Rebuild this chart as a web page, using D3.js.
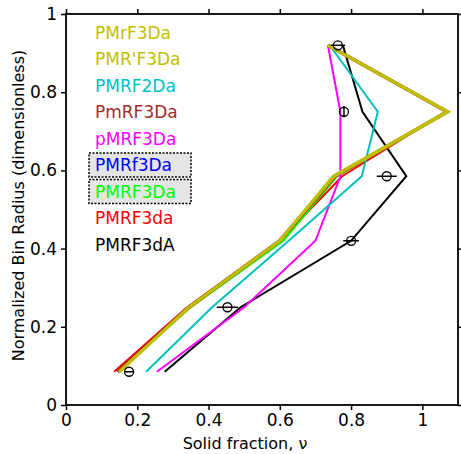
<!DOCTYPE html>
<html>
<head>
<meta charset="utf-8">
<script src="https://cdn.jsdelivr.net/npm/d3@7"></script>
<style>
  body { margin: 0; background: #fff; }
  svg text { font-family: "DejaVu Sans", sans-serif; }
</style>
</head>
<body>
<script>
// radius bins (y) shared by every series
const radius = [0.085, 0.25, 0.42, 0.585, 0.75, 0.92]

// solid fraction per series
const names  = ["PMrF3Da", "PMR'F3Da", "PMRF2Da", "PmRF3Da", "pMRF3Da", "PMRf3Da", "PMRF3Da", "PMRF3da", "PMRF3dA"]
const colors = ["#bfbf00", "#bfbf00", "#00bfbf", "#a52a2a", "#ff00ff", "#0000ff", "#00ff00", "#ff0000", "#000000"]
const values = [
  [0.148, 0.345, 0.60, 0.755, 1.075, 0.735],
  [0.150, 0.345, 0.60, 0.750, 1.070, 0.735],
  [0.225, 0.410, 0.625, 0.83, 0.875, 0.740],
  [0.145, 0.345, 0.60, 0.755, 1.070, 0.735],
  [0.255, 0.500, 0.70, 0.770, 0.770, 0.735],
  [0.145, 0.345, 0.60, 0.755, 1.070, 0.735],
  [0.145, 0.350, 0.61, 0.760, 1.070, 0.735],
  [0.135, 0.340, 0.60, 0.775, 1.065, 0.735],
  [0.277, 0.490, 0.80, 0.955, 0.832, 0.777]
]
const boxed = ["PMRf3Da", "PMRF3Da"]

// measured points with error bars
const measNu   = [0.177, 0.453, 0.80, 0.90, 0.78, 0.763]
const measXerr = [0.005, 0.03, 0.022, 0.028, 0, 0.02]
const measYerr = [0.004, 0.008, 0.004, 0.004, 0.014, 0.004]

const xTicks = [0, 0.2, 0.4, 0.6, 0.8, 1]
const yTicks = [0, 0.2, 0.4, 0.6, 0.8, 1]

const W = 461, H = 454
const svg = d3.select("body").append("svg").attr("width", W).attr("height", H)

const x = d3.scaleLinear().domain([0, 1.1]).range([66, 458])
const y = d3.scaleLinear().domain([0, 1]).range([405, 14])

// lines
const line = d3.line().x(d => x(d[0])).y(d => y(d[1]))
const order = [8, 7, 6, 5, 3, 4, 2, 1, 0]
const widths = {0: 2, 1: 3.2, 2: 2, 3: 3.6, 4: 2, 5: 2, 6: 2, 7: 2, 8: 2}
order.forEach(i => {
  const pts = values[i].map((v, k) => [v, radius[k]])
  svg.append("path")
    .attr("d", line(pts))
    .attr("fill", "none")
    .attr("stroke", colors[i])
    .attr("stroke-width", widths[i])
    .attr("stroke-linejoin", "miter")
    .attr("stroke-dasharray", names[i] == "PMRf3Da" ? "2,6" : null)
})

// measured points
const meas = svg.append("g")
measNu.forEach((v, k) => {
  let cx = x(v), cy = y(radius[k])
  let ex = x(v + measXerr[k]) - cx
  let ey = cy - y(radius[k] + measYerr[k])
  if (measXerr[k] > 0) {
    ex = Math.max(ex, 4.5)
    meas.append("line").attr("x1", cx - ex).attr("x2", cx + ex).attr("y1", cy).attr("y2", cy)
      .attr("stroke", "#000").attr("stroke-width", 1.5)
  }
  if (ey > 4) {
    meas.append("line").attr("x1", cx).attr("x2", cx).attr("y1", cy - ey).attr("y2", cy + ey)
      .attr("stroke", "#000").attr("stroke-width", 1.5)
  }
  meas.append("circle").attr("cx", cx).attr("cy", cy).attr("r", 4.5)
    .attr("fill", "none").attr("stroke", "#000").attr("stroke-width", 1.3)
})

// frame
svg.append("rect")
  .attr("x", x(0)).attr("y", y(1))
  .attr("width", x(1.1) - x(0)).attr("height", y(0) - y(1))
  .attr("fill", "none").attr("stroke", "#000").attr("stroke-width", 1.8)

// axes
svg.append("g").attr("transform", `translate(0,${y(0)})`)
  .call(d3.axisBottom(x).tickValues(xTicks).tickFormat(d => String(d)).tickSize(5).tickPadding(4))
svg.append("g").attr("transform", `translate(0,${y(1)})`)
  .call(d3.axisTop(x).tickValues(xTicks).tickFormat("").tickSize(5))
svg.append("g").attr("transform", `translate(${x(0)},0)`)
  .call(d3.axisLeft(y).tickValues(yTicks).tickFormat(d => String(d)).tickSize(5).tickPadding(4))
svg.append("g").attr("transform", `translate(${x(1.1)},0)`)
  .call(d3.axisRight(y).tickValues(yTicks).tickFormat("").tickSize(5))

svg.selectAll(".domain").remove()
svg.selectAll(".tick line").attr("stroke", "#000").attr("stroke-width", 1.5)
svg.selectAll(".tick text").attr("font-size", 17).attr("fill", "#000")
  .style("font-family", "DejaVu Sans")

svg.append("text")
  .attr("x", 245).attr("y", 449)
  .attr("text-anchor", "middle").attr("font-size", 16)
  .text("Solid fraction,  \u03bd")

svg.append("text")
  .attr("transform", `translate(24,${(y(0) + y(1)) / 2 - 4}) rotate(-90)`)
  .attr("text-anchor", "middle").attr("font-size", 16)
  .text("Normalized Bin Radius (dimensionless)")

// legend
const leg = svg.append("g")
names.forEach((n, i) => {
  let ly = 33 + i * 26.5
  if (boxed.includes(n)) {
    leg.append("rect")
      .attr("x", 89).attr("y", ly - 12.5)
      .attr("width", 102).attr("height", 24)
      .attr("fill", "#e5e5e5").attr("stroke", "#000")
      .attr("stroke-width", 1.5).attr("stroke-dasharray", "2,1.5")
  }
  leg.append("text")
    .attr("x", 95).attr("y", ly)
    .attr("dy", "0.35em")
    .attr("font-size", 17)
    .attr("fill", colors[i])
    .text(n)
})
</script>
</body>
</html>
